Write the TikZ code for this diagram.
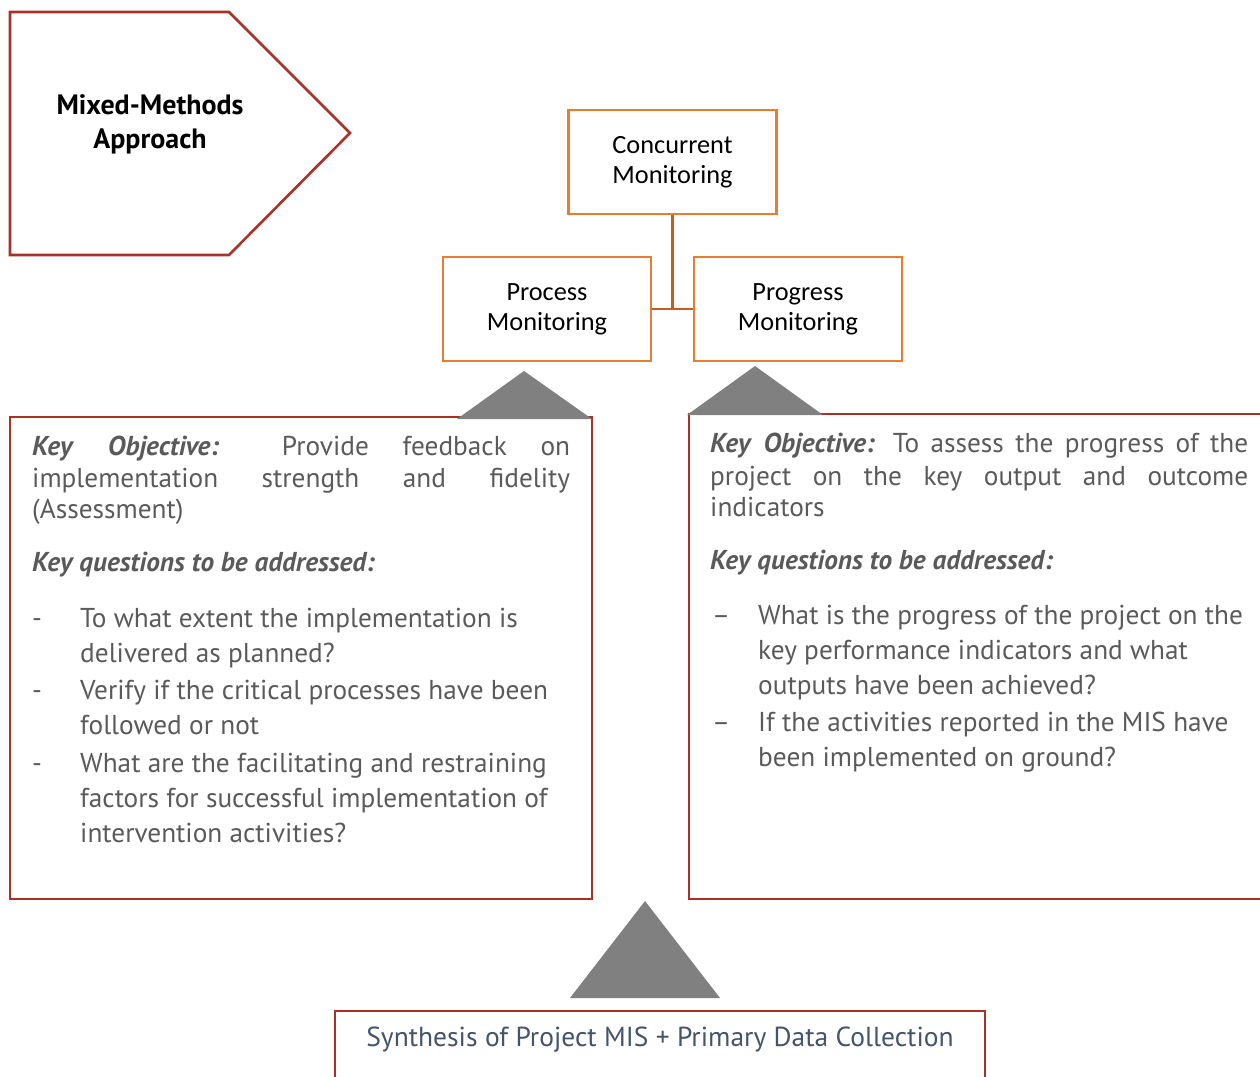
\documentclass[tikz,border=0pt]{standalone}
\usepackage{fontspec}
\setmainfont{PT Sans}
\newfontfamily\calfont{Carlito}
\definecolor{boxred}{RGB}{168,50,38}
\definecolor{boxorange}{RGB}{232,125,50}
\definecolor{linkorange}{RGB}{200,92,28}
\definecolor{bodygray}{RGB}{90,90,90}
\definecolor{slate}{RGB}{68,84,106}
\definecolor{tri}{RGB}{128,128,128}
\tikzset{
  monbox/.style={draw=boxorange, line width=2.4pt, fill=white, minimum width=208pt,
    minimum height=104pt, inner sep=0pt, align=center,
    font=\calfont\fontsize{26.3}{30}\selectfont},
  panel/.style={draw=boxred, line width=2.6pt, inner sep=0pt},
  txt/.style={anchor=base west, inner sep=0pt, text=bodygray,
    font=\fontsize{27.3}{32}\selectfont},
  pointer/.style={fill=tri, draw=none},
}
\newcommand{\kobj}{\textbf{\textit{Key}}}
\newcommand{\kobjb}{\textbf{\textit{Objective:}}}
\begin{document}
\begin{tikzpicture}[x=1pt,y=-1pt]
\useasboundingbox (0,0) rectangle (1260,1076);

% pentagon arrow with the method label
\draw[boxred, line width=2.6pt, line join=miter]
  (10,12) -- (229,12) -- (350,133) -- (229,255) -- (10,255) -- cycle;
\node[align=center, font=\bfseries\fontsize{28}{34}\selectfont] (mm) at (150,124)
  {Mixed-Methods\\Approach};

% monitoring hierarchy
\node[monbox] (conc) at (672.5,162) {Concurrent\\Monitoring};
\node[monbox] (proc) at (547,309) {Process\\Monitoring};
\node[monbox] (prog) at (798,309) {Progress\\Monitoring};
\draw[linkorange, line width=2.4pt] (conc.south) -- (conc.south |- proc.east);
\draw[linkorange, line width=2.4pt] (proc.east) -- (prog.west);

% detail panels
\node[panel, minimum width=582pt, minimum height=482pt] (lp) at (301,658) {};
\node[panel, minimum width=577pt, minimum height=485pt] (rp) at (977.5,656.5) {};
\node[panel, line width=1.8pt, minimum width=650pt, minimum height=80pt] (bp) at (660,1051) {};

% pointers
\fill[pointer] (457,419) -- (524,371) -- (592,419) -- cycle;
\fill[pointer] (687,415) -- (755,366) -- (823,415) -- cycle;
\fill[pointer] (570,998) -- (645,901) -- (720,998) -- cycle;

% left panel text
\node[txt] (l1) at (32,455) {\makebox[538pt][s]{\kobj{} \kobjb{} Provide feedback on}};
\node[txt] (l2) at (32,487) {\makebox[538pt][s]{implementation strength and fidelity}};
\node[txt] (l3) at (32,518) {(Assessment)};
\node[txt] (l4) at (32,571) {\textbf{\textit{Key questions to be addressed:}}};
\node[txt] (ld1) at (32,627) {-};
\node[txt] (l5) at (80,627) {To what extent the implementation is};
\node[txt] (l6) at (80,662) {delivered as planned?};
\node[txt] (ld2) at (32,699) {-};
\node[txt] (l7) at (80,699) {Verify if the critical processes have been};
\node[txt] (l8) at (80,734) {followed or not};
\node[txt] (ld3) at (32,772) {-};
\node[txt] (l9) at (80,772) {What are the facilitating and restraining};
\node[txt] (l10) at (80,807) {factors for successful implementation of};
\node[txt] (l11) at (80,842) {intervention activities?};

% right panel text
\node[txt] (r1) at (710,452) {\makebox[538pt][s]{\kobj{} \kobjb{} To assess the progress of the}};
\node[txt] (r2) at (710,485) {\makebox[538pt][s]{project on the key output and outcome}};
\node[txt] (r3) at (710,516) {indicators};
\node[txt] (r4) at (710,569) {\textbf{\textit{Key questions to be addressed:}}};
\node[txt] (rd1) at (712,624) {–};
\node[txt] (r5) at (758,624) {What is the progress of the project on the};
\node[txt] (r6) at (758,659) {key performance indicators and what};
\node[txt] (r7) at (758,694) {outputs have been achieved?};
\node[txt] (rd2) at (712,731) {–};
\node[txt] (r8) at (758,731) {If the activities reported in the MIS have};
\node[txt] (r9) at (758,766) {been implemented on ground?};

% base label
\node[text=slate, font=\fontsize{27.5}{32}\selectfont, anchor=base] (syn) at (660,1046)
  {Synthesis of Project MIS + Primary Data Collection};
\end{tikzpicture}
\end{document}
